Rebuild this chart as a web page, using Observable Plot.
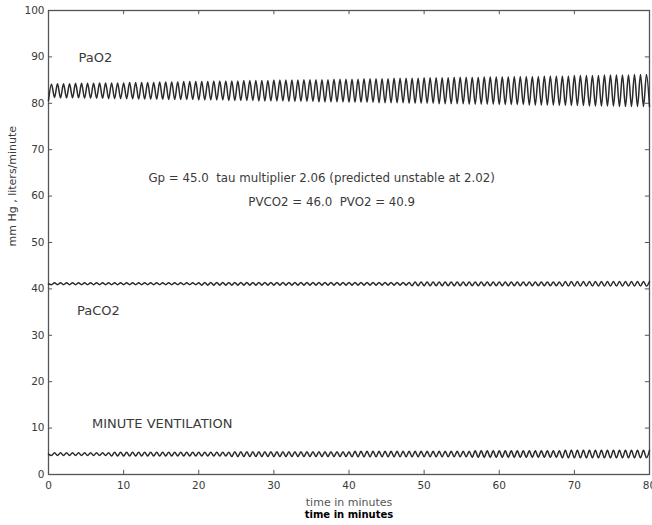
<!DOCTYPE html>
<html><head><meta charset="utf-8">
<script src="https://cdn.jsdelivr.net/npm/d3@7"></script>
<script src="https://cdn.jsdelivr.net/npm/@observablehq/plot@0.6"></script>
<style>body{margin:0;background:#fff} svg{display:block}</style>
</head><body><div id="chart"></div>
<script>
// time (minutes) of each turning point of the oscillations
const time = [0,
0.4,0.8,1.2,1.6,2,2.4,2.8,3.2,3.6,4,
4.4,4.8,5.2,5.6,6,6.4,6.8,7.2,7.6,8,
8.4,8.8,9.2,9.6,10,10.4,10.8,11.2,11.6,12,
12.4,12.8,13.2,13.6,14,14.4,14.8,15.2,15.6,16,
16.4,16.8,17.2,17.6,18,18.4,18.8,19.2,19.6,20,
20.4,20.8,21.2,21.6,22,22.4,22.8,23.2,23.6,24,
24.4,24.8,25.2,25.6,26,26.4,26.8,27.2,27.6,28,
28.4,28.8,29.2,29.6,30,30.4,30.8,31.2,31.6,32,
32.4,32.8,33.2,33.6,34,34.4,34.8,35.2,35.6,36,
36.4,36.8,37.2,37.6,38,38.4,38.8,39.2,39.6,40,
40.4,40.8,41.2,41.6,42,42.4,42.8,43.2,43.6,44,
44.4,44.8,45.2,45.6,46,46.4,46.8,47.2,47.6,48,
48.4,48.8,49.2,49.6,50,50.4,50.8,51.2,51.6,52,
52.4,52.8,53.2,53.6,54,54.4,54.8,55.2,55.6,56,
56.4,56.8,57.2,57.6,58,58.4,58.8,59.2,59.6,60,
60.4,60.8,61.2,61.6,62,62.4,62.8,63.2,63.6,64,
64.4,64.8,65.2,65.6,66,66.4,66.8,67.2,67.6,68,
68.4,68.8,69.2,69.6,70,70.4,70.8,71.2,71.6,72,
72.4,72.8,73.2,73.6,74,74.4,74.8,75.2,75.6,76,
76.4,76.8,77.2,77.6,78,78.4,78.8,79.2,79.6,80];

const pao2 = [80.6,
84.1,81.3,84.2,81.2,84.2,81.2,84.2,81.2,84.3,81.2,
84.3,81.1,84.3,81.1,84.3,81.1,84.4,81.1,84.4,81.0,
84.4,81.0,84.4,81.0,84.4,81.0,84.5,81.0,84.5,80.9,
84.5,80.9,84.5,80.9,84.5,80.9,84.6,80.9,84.6,80.8,
84.6,80.8,84.6,80.8,84.7,80.8,84.7,80.8,84.7,80.7,
84.7,80.7,84.7,80.7,84.8,80.7,84.8,80.7,84.8,80.6,
84.8,80.6,84.8,80.6,84.9,80.6,84.9,80.6,84.9,80.5,
84.9,80.5,84.9,80.5,85.0,80.5,85.0,80.5,85.0,80.4,
85.0,80.4,85.0,80.4,85.1,80.4,85.1,80.4,85.1,80.3,
85.1,80.3,85.1,80.3,85.2,80.3,85.2,80.3,85.2,80.2,
85.2,80.2,85.2,80.2,85.3,80.2,85.3,80.2,85.3,80.1,
85.3,80.1,85.3,80.1,85.4,80.1,85.4,80.1,85.4,80.0,
85.4,80.0,85.4,80.0,85.5,80.0,85.5,80.0,85.5,79.9,
85.5,79.9,85.5,79.9,85.6,79.9,85.6,79.9,85.6,79.8,
85.6,79.8,85.6,79.8,85.7,79.8,85.7,79.8,85.7,79.7,
85.7,79.7,85.7,79.7,85.8,79.7,85.8,79.7,85.8,79.6,
85.8,79.6,85.8,79.6,85.9,79.6,85.9,79.6,85.9,79.5,
85.9,79.5,85.9,79.5,86.0,79.5,86.0,79.5,86.0,79.4,
86.0,79.4,86.0,79.4,86.1,79.4,86.1,79.4,86.1,79.3,
86.1,79.3,86.1,79.3,86.2,79.3,86.2,79.3,86.2,79.3];

const paco2 = [41.1,
40.9,41.3,40.9,41.3,40.9,41.3,40.9,41.3,40.9,41.3,
40.9,41.3,40.9,41.3,40.9,41.3,40.9,41.3,40.9,41.3,
40.9,41.3,40.9,41.3,40.9,41.3,40.9,41.3,40.9,41.3,
40.9,41.3,40.9,41.3,40.9,41.3,40.9,41.3,40.9,41.3,
40.9,41.3,40.9,41.3,40.9,41.3,40.9,41.3,40.9,41.3,
40.8,41.4,40.8,41.4,40.8,41.4,40.8,41.4,40.8,41.4,
40.8,41.4,40.8,41.4,40.8,41.4,40.8,41.4,40.8,41.4,
40.8,41.4,40.8,41.4,40.8,41.4,40.8,41.4,40.8,41.4,
40.8,41.4,40.8,41.4,40.8,41.4,40.8,41.4,40.8,41.4,
40.8,41.4,40.8,41.4,40.8,41.4,40.8,41.4,40.8,41.4,
40.8,41.4,40.8,41.4,40.8,41.4,40.8,41.4,40.8,41.4,
40.8,41.4,40.8,41.4,40.8,41.4,40.8,41.4,40.8,41.4,
40.7,41.5,40.7,41.5,40.7,41.5,40.7,41.5,40.7,41.5,
40.7,41.5,40.7,41.5,40.7,41.5,40.7,41.5,40.7,41.5,
40.7,41.5,40.7,41.5,40.7,41.5,40.7,41.5,40.7,41.5,
40.7,41.5,40.7,41.5,40.7,41.5,40.7,41.5,40.7,41.5,
40.7,41.5,40.7,41.5,40.7,41.5,40.7,41.5,40.7,41.5,
40.6,41.6,40.6,41.6,40.6,41.6,40.6,41.6,40.6,41.6,
40.6,41.6,40.6,41.6,40.6,41.6,40.6,41.6,40.6,41.6,
40.6,41.6,40.6,41.6,40.6,41.6,40.6,41.6,40.6,41.6];

const ventilation = [4.4,
4.1,4.7,4.1,4.7,4.1,4.7,4.1,4.7,4.1,4.7,
4.1,4.7,4.1,4.7,4.1,4.7,4.1,4.7,4.1,4.7,
4.0,4.8,4.0,4.8,4.0,4.8,4.0,4.8,4.0,4.8,
4.0,4.8,4.0,4.8,4.0,4.8,4.0,4.8,4.0,4.8,
4.0,4.8,4.0,4.8,4.0,4.8,4.0,4.8,4.0,4.8,
4.0,4.8,4.0,4.8,4.0,4.8,4.0,4.8,4.0,4.8,
3.9,4.9,3.9,4.9,3.9,4.9,3.9,4.9,3.9,4.9,
3.9,4.9,3.9,4.9,3.9,4.9,3.9,4.9,3.9,4.9,
3.9,4.9,3.9,4.9,3.9,4.9,3.9,4.9,3.9,4.9,
3.9,4.9,3.9,4.9,3.9,4.9,3.9,4.9,3.9,4.9,
3.8,5.0,3.8,5.0,3.8,5.0,3.8,5.0,3.8,5.0,
3.8,5.0,3.8,5.0,3.8,5.0,3.8,5.0,3.8,5.0,
3.8,5.0,3.8,5.0,3.8,5.0,3.8,5.0,3.8,5.0,
3.8,5.0,3.8,5.0,3.8,5.0,3.8,5.0,3.8,5.0,
3.7,5.1,3.7,5.1,3.7,5.1,3.7,5.1,3.7,5.1,
3.7,5.1,3.7,5.1,3.7,5.1,3.7,5.1,3.7,5.1,
3.7,5.1,3.7,5.1,3.7,5.1,3.7,5.1,3.7,5.1,
3.6,5.2,3.6,5.2,3.6,5.2,3.6,5.2,3.6,5.2,
3.6,5.2,3.6,5.2,3.6,5.2,3.6,5.2,3.6,5.2,
3.6,5.2,3.6,5.2,3.6,5.2,3.6,5.2,3.6,5.2];

const xTicks = [0,10,20,30,40,50,60,70,80];
const yTicks = [0,10,20,30,40,50,60,70,80,90,100];

const seriesLabels = [
  {text:"PaO2", t:4.0, v:89.7},
  {text:"PaCO2", t:3.8, v:35.3},
  {text:"MINUTE VENTILATION", t:5.8, v:11.0}
];
const notes = [
  {text:"Gp = 45.0  tau multiplier 2.06 (predicted unstable at 2.02)", t:13.3, v:63.9},
  {text:"PVCO2 = 46.0  PVO2 = 40.9", t:26.6, v:58.6}
];
const xLabel = "time in minutes";
const yLabel = "mm Hg , liters/minute";

const rows = [];
time.forEach((t, i) => {
  rows.push({series:"PaO2", t, v:pao2[i]});
  rows.push({series:"PaCO2", t, v:paco2[i]});
  rows.push({series:"VE", t, v:ventilation[i]});
});

const ink = "#3a3a3a";
const chart = Plot.plot({
  width: 652, height: 525,
  marginTop: 10, marginBottom: 51, marginLeft: 48, marginRight: 3,
  style: {fontFamily: "'DejaVu Sans', sans-serif", background: "#fff", color: ink},
  x: {domain: [0, 80]},
  y: {domain: [0, 100]},
  marks: [
    Plot.frame({stroke: "#555", strokeWidth: 1.3}),
    Plot.axisX(xTicks, {anchor: "bottom", tickSize: 0, tickPadding: 7, fontSize: 10.5, label: null, fill: ink}),
    Plot.axisY(yTicks, {anchor: "left", tickSize: 0, tickPadding: 4, fontSize: 10.5, label: null, fill: ink}),
    Plot.ruleX(xTicks, {x: d => d, y1: 0, y2: 0.9, stroke: "#555"}),
    Plot.ruleX(xTicks, {x: d => d, y1: 99.1, y2: 100, stroke: "#555"}),
    Plot.ruleY(yTicks, {y: d => d, x1: 0, x2: 0.55, stroke: "#555"}),
    Plot.ruleY(yTicks, {y: d => d, x1: 79.45, x2: 80, stroke: "#555"}),
    Plot.line(rows, {x: "t", y: "v", z: "series", curve: "monotone-x", stroke: "#2a2a2a", strokeWidth: 1.5}),
    Plot.text(seriesLabels, {x: "t", y: "v", text: "text", textAnchor: "start", fontSize: 13, fill: ink}),
    Plot.text(notes, {x: "t", y: "v", text: "text", textAnchor: "start", fontSize: 11.8, fill: ink}),
    Plot.text([yLabel], {frameAnchor: "left", dx: -36, dy: 4, rotate: -90, fontSize: 11, fill: ink}),
    Plot.text([xLabel], {frameAnchor: "bottom", dy: 31, fontSize: 11, fill: "#555"}),
    Plot.text([xLabel], {frameAnchor: "bottom", dy: 43, fontSize: 10, fontWeight: "bold", fill: "#000"})
  ]
});
document.getElementById("chart").appendChild(chart);
</script>
</body></html>
